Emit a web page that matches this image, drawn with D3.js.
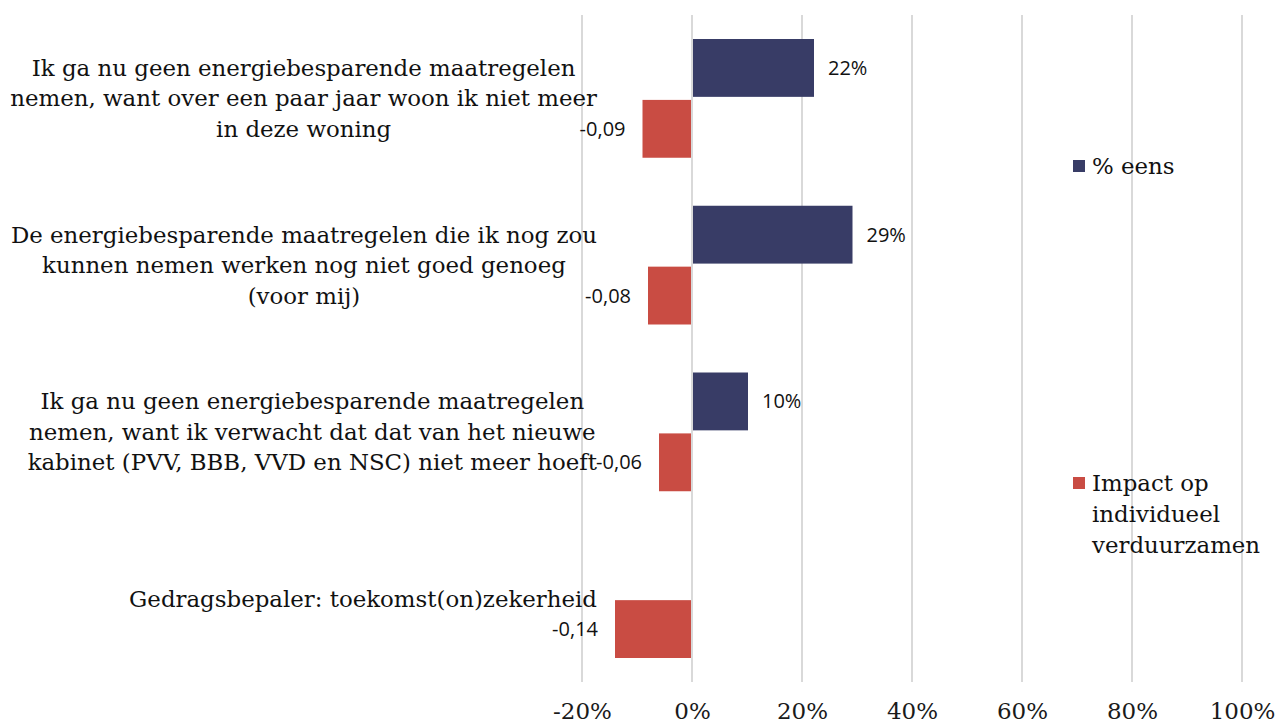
<!DOCTYPE html>
<html>
<head>
<meta charset="utf-8">
<script src="https://cdn.jsdelivr.net/npm/d3@7"></script>
<style>
  html, body { margin: 0; padding: 0; background: #ffffff; }
  svg { display: block; }
</style>
</head>
<body>
<svg id="chart" width="1275" height="726"></svg>
<script>
// ---- data ----
const categories = [
  ["Ik ga nu geen energiebesparende maatregelen", "nemen, want over een paar jaar woon ik niet meer", "in deze woning"],
  ["De energiebesparende maatregelen die ik nog zou", "kunnen nemen werken nog niet goed genoeg", "(voor mij)"],
  ["Ik ga nu geen energiebesparende maatregelen", "nemen, want ik verwacht dat dat van het nieuwe", "kabinet (PVV, BBB, VVD en NSC) niet meer hoeft"],
  ["Gedragsbepaler: toekomst(on)zekerheid"]
];
const pctEens = [22, 29, 10, null];           // % eens
const impact = [-0.09, -0.08, -0.06, -0.14];  // Impact op individueel verduurzamen
const seriesNames = ["% eens", ["Impact op", "individueel", "verduurzamen"]];
const tickValues = [-20, 0, 20, 40, 60, 80, 100];

// ---- layout ----
const colors = ["#383c66", "#c94c43"];
const serif = "'DejaVu Serif', 'Liberation Serif', serif";
const sans = "'Open Sans', 'Noto Sans', sans-serif";
const svg = d3.select("#chart");

const x = d3.scaleLinear().domain([-20, 100]).range([582, 1242]);
const y = d3.scaleBand().domain(d3.range(categories.length)).range([15, 682]).paddingInner(0).paddingOuter(0);
const sub = d3.scaleBand().domain([0, 1]).range([24, y.bandwidth() - 24]).paddingInner(0.05);

// gridlines
svg.append("g").selectAll("line").data(tickValues).join("line")
  .attr("x1", d => x(d)).attr("x2", d => x(d))
  .attr("y1", 15).attr("y2", 682)
  .attr("stroke", "#d9d9d9").attr("stroke-width", 2);

// x axis via d3.axisBottom
const xAxis = d3.axisBottom(x).tickValues(tickValues).tickSize(0).tickPadding(0)
  .tickFormat(d => (d < 0 ? "-" : "") + Math.abs(d) + "%");
const gx = svg.append("g").attr("transform", "translate(0,701)").call(xAxis);
gx.select(".domain").remove();
gx.selectAll("text").attr("font-family", serif).attr("font-size", 23).attr("fill", "#1a1a1a")
  .attr("dy", "0.8em");

// blue bars
const gBlue = svg.append("g");
pctEens.forEach((v, i) => {
  if (v == null) return;
  const y0 = y(i) + sub(0);
  gBlue.append("rect").attr("x", x(0) + 1).attr("y", y0)
    .attr("width", x(v) - x(0)).attr("height", sub.bandwidth())
    .attr("fill", colors[0]);
  gBlue.append("text").attr("x", x(v) + 15).attr("y", y0 + sub.bandwidth() / 2)
    .attr("dy", "0.35em").attr("font-family", sans).attr("font-size", 20).attr("fill", "#111")
    .text(v + "%");
});

// red bars
const gRed = svg.append("g");
impact.forEach((v, i) => {
  const y0 = y(i) + sub(1);
  const pv = v * 100;
  gRed.append("rect").attr("x", x(pv)).attr("y", y0)
    .attr("width", x(0) - 1 - x(pv)).attr("height", sub.bandwidth())
    .attr("fill", colors[1]);
  gRed.append("text").attr("x", x(pv) - 17).attr("y", y0 + sub.bandwidth() / 2)
    .attr("dy", "0.35em").attr("text-anchor", "end")
    .attr("font-family", sans).attr("font-size", 20).attr("fill", "#111")
    .text(v.toFixed(2).replace(".", ","));
});

// category labels
svg.append("defs").append("clipPath").attr("id", "lblclip")
  .append("rect").attr("x", 10).attr("y", 0).attr("width", 700).attr("height", 726);
const gLab = svg.append("g").attr("clip-path", "url(#lblclip)");
// measure to fit font size
const probe = gLab.append("text").attr("font-family", serif).attr("font-size", 20).text(categories[0][0]);
const w20 = probe.node().getComputedTextLength();
probe.remove();
const fs = Math.max(16, Math.min(24, 20 * 544 / w20));
const lineH = 30.5;
categories.forEach((lines, i) => {
  const cy = y(i) + y.bandwidth() / 2;
  const t = gLab.append("text").attr("font-family", serif).attr("font-size", fs)
    .attr("fill", "#111").attr("text-anchor", "middle");
  const spans = lines.map((ln, j) => t.append("tspan").text(ln)
    .attr("y", cy + (j - (lines.length - 1) / 2) * lineH).attr("dy", "0.35em"));
  const maxW = d3.max(spans, s => s.node().getComputedTextLength());
  const cx = 597 - maxW / 2;
  spans.forEach(s => s.attr("x", cx));
});

// legend
const legend = svg.append("g");
const legY = [166, 483];
seriesNames.forEach((name, i) => {
  const lines = Array.isArray(name) ? name : [name];
  legend.append("rect").attr("x", 1073).attr("y", legY[i] - 6).attr("width", 12).attr("height", 12)
    .attr("fill", colors[i]);
  const t = legend.append("text").attr("font-family", serif).attr("font-size", fs).attr("fill", "#111");
  lines.forEach((ln, j) => t.append("tspan").attr("x", 1092).attr("y", legY[i] + j * 31)
    .attr("dy", "0.35em").text(ln));
});
</script>
</body>
</html>
